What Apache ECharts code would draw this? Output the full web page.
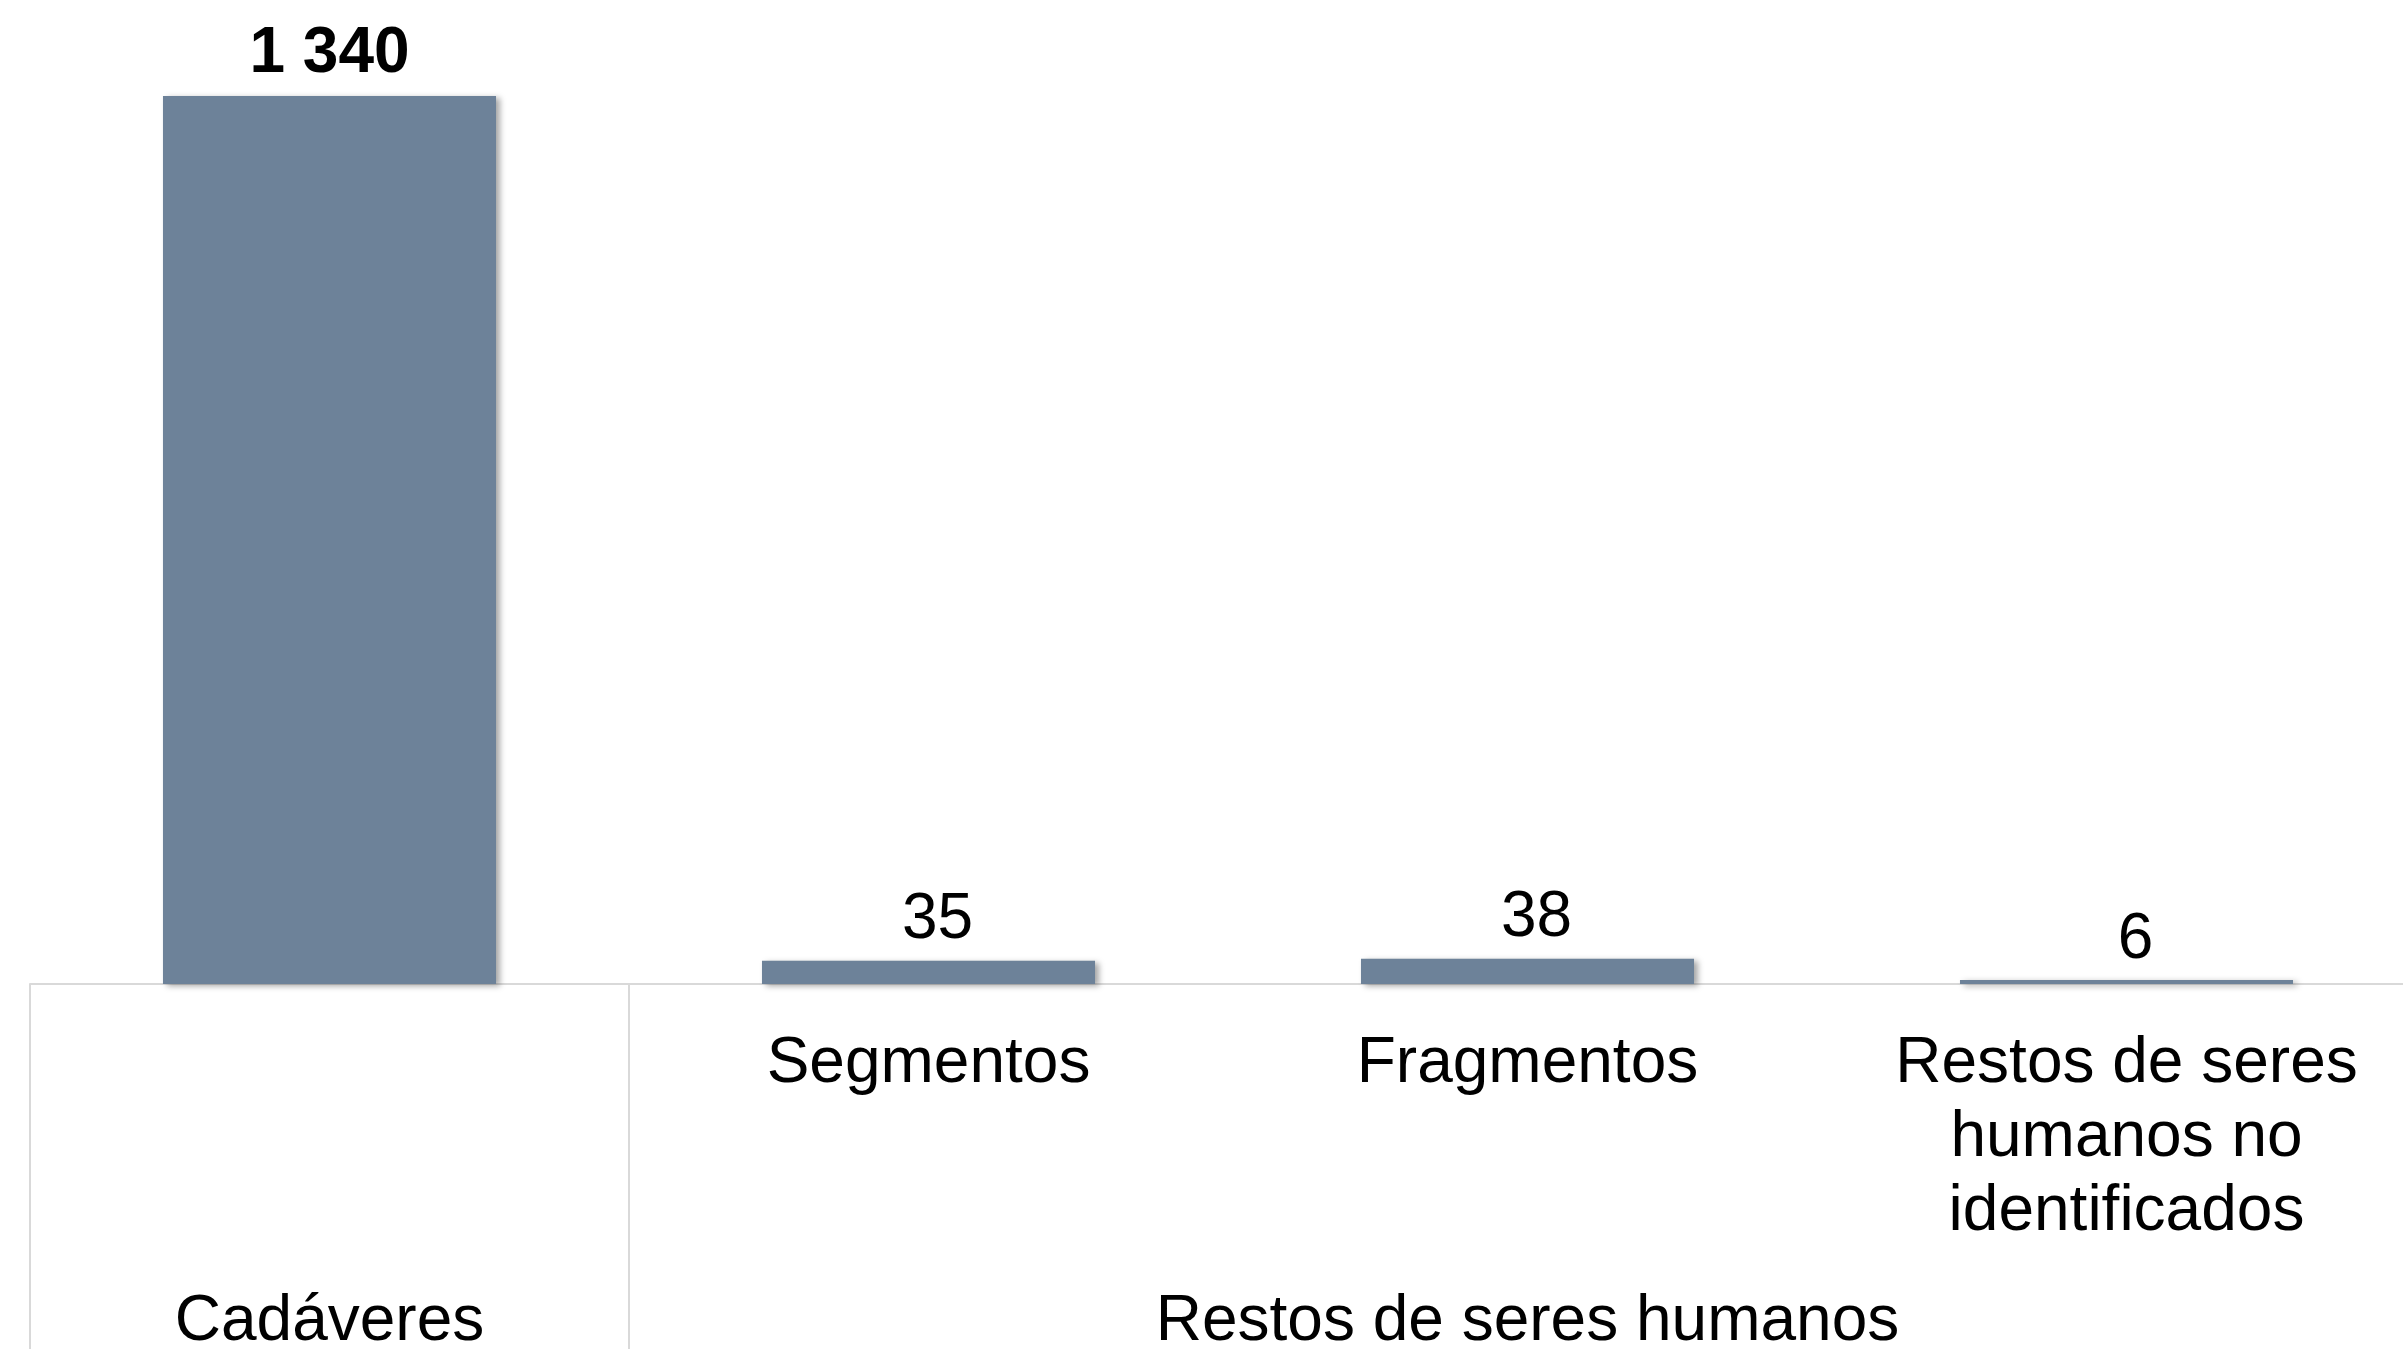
<!DOCTYPE html>
<html>
<head>
<meta charset="utf-8">
<script src="https://cdn.jsdelivr.net/npm/echarts@6/dist/echarts.min.js"></script>
<style>
html,body{margin:0;padding:0;background:#fff;}
#c{width:2403px;height:1349px;}
</style>
</head>
<body>
<div id="c"></div>
<script>
var categories = ['', 'Segmentos', 'Fragmentos', 'Restos de seres\nhumanos no\nidentificados'];
var groupLabels = ['Cadáveres', '', 'Restos de seres humanos', ''];
var values = [1340, 35, 38, 6];
var boldIndex = 0;

function fmt(v) {
  return String(v).replace(/\B(?=(\d{3})+(?!\d))/g, ' ');
}

var font = 'Liberation Sans, Arial, sans-serif';
var chart = echarts.init(document.getElementById('c'));
chart.setOption({
  backgroundColor: '#ffffff',
  animation: false,
  grid: { left: 30, right: -23, top: 0, bottom: 365, containLabel: false, outerBoundsMode: 'none' },
  xAxis: [
    {
      type: 'category', position: 'bottom', data: categories, boundaryGap: true,
      axisLine: { show: true, lineStyle: { color: '#d9d9d9', width: 2 } },
      axisTick: { show: false },
      axisLabel: { interval: 0, margin: 43, color: '#000', fontSize: 64, lineHeight: 74, fontFamily: font, align: 'center' }
    },
    {
      type: 'category', position: 'bottom', data: groupLabels, boundaryGap: true,
      axisLine: { show: false },
      axisTick: { show: true, interval: function (idx) { return idx <= 1; }, length: 400, lineStyle: { color: '#d9d9d9', width: 2 } },
      axisLabel: { interval: 0, margin: 301, color: '#000', fontSize: 64, lineHeight: 74, fontFamily: font }
    }
  ],
  yAxis: { type: 'value', min: 0, max: 1485, show: false },
  series: [{
    type: 'bar',
    xAxisIndex: 0,
    barWidth: '55.6%',
    data: values.map(function (v, i) {
      var bold = i === boldIndex;
      return { value: v, label: { fontWeight: bold ? 'bold' : 'normal', offset: bold ? [0, 2] : [9, 4] } };
    }),
    itemStyle: { color: '#6d8299', shadowColor: 'rgba(0,0,0,0.35)', shadowBlur: 6, shadowOffsetX: 4, shadowOffsetY: 2 },
    label: {
      show: true, position: 'top', distance: 12, color: '#000', fontSize: 64, fontFamily: font,
      formatter: function (p) { return fmt(p.value); }
    }
  }]
});
</script>
</body>
</html>
